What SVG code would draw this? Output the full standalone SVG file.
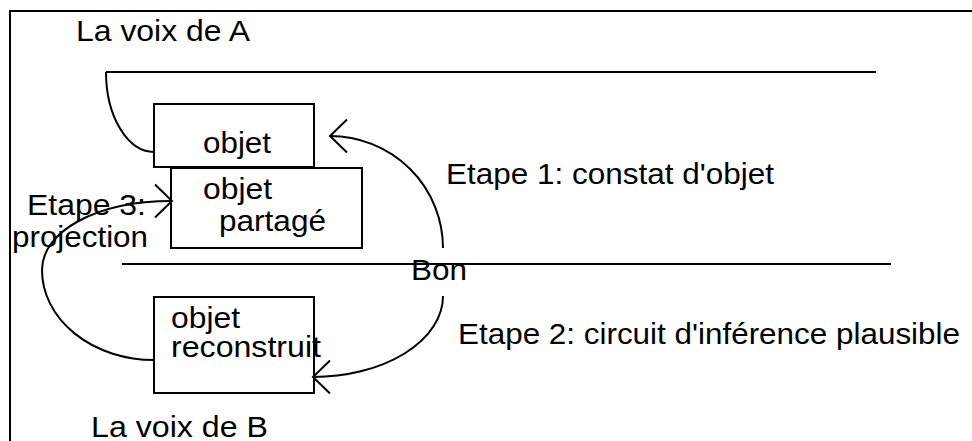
<svg xmlns="http://www.w3.org/2000/svg" width="972" height="441" viewBox="0 0 972 441">
  <style>
    .ln { fill: none; stroke: #000; stroke-width: 2; }
    .box { fill: #fff; stroke: #000; stroke-width: 2; }
    .t { font-family: "Liberation Sans", Arial, sans-serif; font-size: 30px; fill: #000; }
  </style>
  <defs>
    <marker id="chev" markerUnits="userSpaceOnUse" viewBox="-30 -30 60 60" markerWidth="60" markerHeight="60" refX="0" refY="0" orient="auto" overflow="visible">
      <path d="M-17,-16.5 L0,0 L-17,16.5" fill="none" stroke="#000" stroke-width="2" stroke-linejoin="miter"/>
    </marker>
  </defs>
  <rect width="972" height="441" fill="#fff"/>
  <g id="frame">
    <rect x="10" y="11" width="1000" height="500" class="ln"/>
  </g>
  <g id="voix-a">
    <line x1="106" y1="72" x2="876" y2="72" class="ln"/>
    <path d="M106,72 A48,80 0 0 0 154,152" class="ln"/>
    <text class="t" x="76" y="41" textLength="174" lengthAdjust="spacingAndGlyphs">La voix de A</text>
  </g>
  <g id="separateur">
    <line x1="122" y1="264" x2="891" y2="264" class="ln"/>
  </g>
  <g id="objet">
    <rect x="154" y="104" width="160" height="63" class="box"/>
    <text class="t" x="203" y="153" textLength="68" lengthAdjust="spacingAndGlyphs">objet</text>
  </g>
  <g id="objet-partage">
    <rect x="171" y="168" width="191" height="80" class="box"/>
    <text class="t" x="203" y="199" textLength="69" lengthAdjust="spacingAndGlyphs">objet</text>
    <text class="t" x="219" y="231" textLength="107" lengthAdjust="spacingAndGlyphs">partagé</text>
  </g>
  <g id="objet-reconstruit">
    <rect x="154" y="297" width="160" height="96" class="box"/>
    <text class="t" x="171" y="328" textLength="69" lengthAdjust="spacingAndGlyphs">objet</text>
    <text class="t" x="171" y="357" textLength="150" lengthAdjust="spacingAndGlyphs">reconstruit</text>
  </g>
  <g id="voix-b">
    <text class="t" x="91" y="437" textLength="177" lengthAdjust="spacingAndGlyphs">La voix de B</text>
  </g>
  <g id="labels">
    <text class="t" x="446" y="183.5" textLength="328" lengthAdjust="spacingAndGlyphs">Etape 1: constat d'objet</text>
    <text class="t" x="458" y="343.5" textLength="502" lengthAdjust="spacingAndGlyphs">Etape 2: circuit d'inférence plausible</text>
    <text class="t" x="27" y="215" textLength="119" lengthAdjust="spacingAndGlyphs">Etape 3:</text>
    <text class="t" x="12" y="247" textLength="136" lengthAdjust="spacingAndGlyphs">projection</text>
    <text class="t" x="411" y="280" textLength="56" lengthAdjust="spacingAndGlyphs">Bon</text>
  </g>
  <g id="connectors">
    <path d="M443,248 A113,112 0 0 0 330,136" class="ln" marker-end="url(#chev)"/>
    <path d="M443,296 A130,81 0 0 1 313,377" class="ln" marker-end="url(#chev)"/>
    <path d="M154,360 A112,90 0 0 1 42,270 C42,232 95,201 172,201" class="ln" marker-end="url(#chev)"/>
  </g>
</svg>
